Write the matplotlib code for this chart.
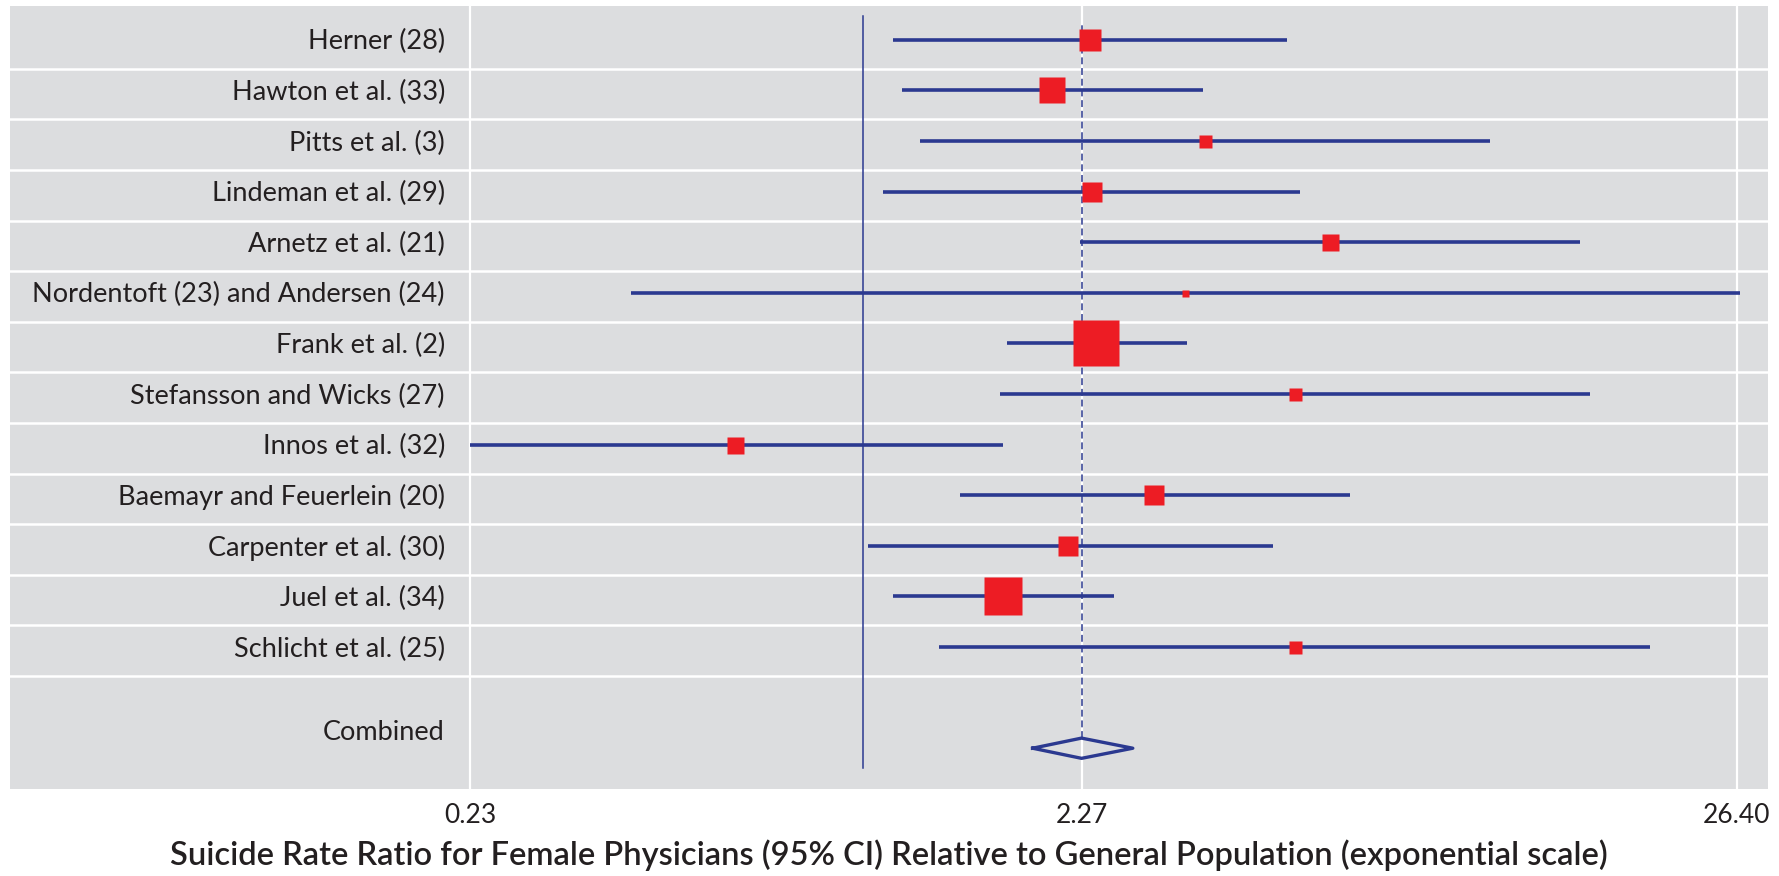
import numpy as np
import matplotlib
matplotlib.use('Agg')
import matplotlib.pyplot as plt
from matplotlib import transforms

plt.rcParams['font.family'] = ['Lato', 'DejaVu Sans']

# study data: rate ratio and 95% CI
studies = ['Herner (28)', 'Hawton et al. (33)', 'Pitts et al. (3)',
           'Lindeman et al. (29)', 'Arnetz et al. (21)',
           'Nordentoft (23) and Andersen (24)', 'Frank et al. (2)',
           'Stefansson and Wicks (27)', 'Innos et al. (32)',
           'Baemayr and Feuerlein (20)', 'Carpenter et al. (30)',
           'Juel et al. (34)', 'Schlicht et al. (25)']
ratio = [2.34, 2.03, 3.60, 2.36, 5.75, 3.34, 2.40, 5.05, 0.62, 2.98, 2.16, 1.69, 5.05]
ci_low = [1.12, 1.16, 1.24, 1.08, 2.26, 0.42, 1.72, 1.67, 0.23, 1.44, 1.02, 1.12, 1.33]
ci_high = [4.89, 3.58, 10.47, 5.14, 14.69, 26.7, 3.37, 15.23, 1.69, 6.20, 4.65, 2.56, 19.06]
box_px = [22, 27, 13, 20, 17, 7, 47, 13, 17, 20, 20, 38, 13]  # study weight, drawn as box side

combined = 2.27
combined_low = 1.89
combined_high = 2.75

tick_vals = [0.23, 2.27, 26.40]
tick_labels = ['0.23', '2.27', '26.40']

navy = '#2b3990'
red = '#ed1c24'
grey = '#dcdddf'
txt = '#231f20'

fig = plt.figure(figsize=(17.79, 8.76), dpi=100)
ax = fig.add_axes([10 / 1779, 87 / 876, 1758 / 1779, 783 / 876])
ax.set_facecolor(grey)
for s in ax.spines.values():
    s.set_visible(False)

n = len(studies)
ypos = np.arange(n, 0, -1)

ax.set_xscale('log')
ax.set_xlim(0.0411, 29.65)
ax.set_ylim(-1.806, 13.67)

# white row separators and tick gridlines
for y in ypos:
    ax.axhline(y - 0.573, color='white', lw=1.8, zorder=1)
for v in tick_vals:
    ax.axvline(v, color='white', lw=1.6, zorder=1)

# line of no effect and pooled estimate
ax.plot([1, 1], [-1.39, 13.48], color=navy, lw=1.1, zorder=2)
ax.plot([combined, combined], [-0.8, 13.35], color=navy, lw=1.1,
        ls=(0, (4.5, 2.5)), zorder=2)

for i in range(n):
    ax.plot([ci_low[i], ci_high[i]], [ypos[i], ypos[i]], color=navy,
            lw=2.6, solid_capstyle='butt', zorder=3)
    ax.plot(ratio[i], ypos[i], marker='s', color=red, mec='none',
            ms=box_px[i] * 0.72, zorder=4)

ax.plot([combined_low, combined, combined_high, combined, combined_low],
        [-1, -0.8, -1, -1.2, -1], color=navy, lw=2.4, zorder=3)

# study labels inside the grey panel
trans = transforms.blended_transform_factory(ax.transAxes, ax.transData)
for i in range(n):
    ax.text(0.2474, ypos[i] - 0.04, studies[i], transform=trans, ha='right',
            va='center', fontsize=19.5, color=txt)
ax.text(0.2474, -0.68, 'Combined', transform=trans, ha='right',
        va='center', fontsize=19.5, color=txt)

ax.set_yticks([])
ax.set_xticks(tick_vals)
ax.set_xticklabels(tick_labels, fontsize=19, color=txt)
ax.xaxis.set_minor_locator(matplotlib.ticker.NullLocator())
ax.tick_params(axis='x', length=0, pad=10)

fig.text(0.4997, 21 / 876,
         'Suicide Rate Ratio for Female Physicians (95% CI) Relative to General Population (exponential scale)',
         ha='center', va='center', fontsize=23.5, fontweight='semibold', color=txt)

fig.savefig('out.png', dpi=100, facecolor='white')
